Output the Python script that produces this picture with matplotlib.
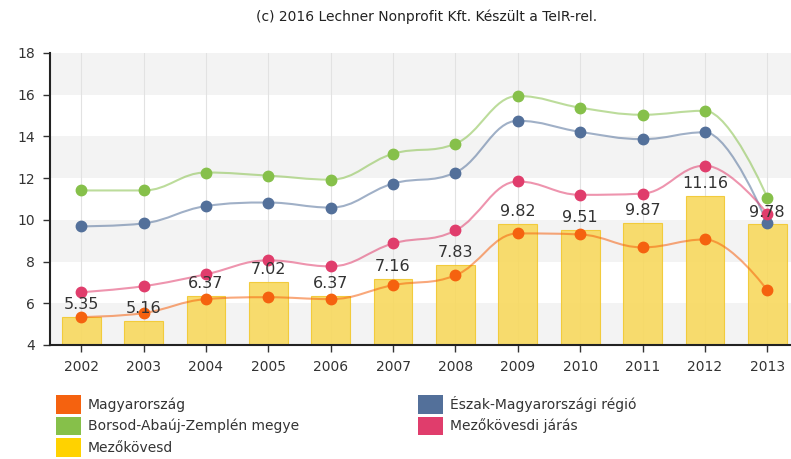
import numpy as np
import matplotlib
matplotlib.use("Agg")
import matplotlib.pyplot as plt
from matplotlib.path import Path
from matplotlib.patches import PathPatch, Patch

# --- adatok ---
evek = ["2002", "2003", "2004", "2005", "2006", "2007",
        "2008", "2009", "2010", "2011", "2012", "2013"]

mezokovesd = [5.35, 5.16, 6.37, 7.02, 6.37, 7.16, 7.83, 9.82, 9.51, 9.87, 11.16, 9.78]
magyarorszag = [5.34, 5.53, 6.20, 6.29, 6.20, 6.87, 7.34, 9.35, 9.30, 8.68, 9.06, 6.63]
eszak_mo = [9.69, 9.83, 10.66, 10.83, 10.59, 11.74, 12.27, 14.75, 14.22, 13.87, 14.20, 9.83]
baz_megye = [11.41, 11.41, 12.27, 12.12, 11.93, 13.17, 13.65, 15.94, 15.38, 15.04, 15.23, 11.07]
mezokovesdi_jaras = [6.53, 6.82, 7.39, 8.06, 7.77, 8.87, 9.49, 11.84, 11.20, 11.26, 12.60, 10.30]

y_ticks = [4, 6, 8, 10, 12, 14, 16, 18]

SZINEK = {
    "Magyarország": "#f5620f",
    "Észak-Magyarországi régió": "#53709a",
    "Borsod-Abaúj-Zemplén megye": "#86c04a",
    "Mezőkövesdi járás": "#e03d6c",
    "Mezőkövesd": "#ffd200",
}


def spline_path(xs, ys, smoothing=1.5):
    """Highcharts-szerű spline: Bezier kontrollpontok a szomszédokból."""
    n = len(xs)
    left, right = [], []
    for i in range(n):
        x, y = xs[i], ys[i]
        if i == 0 or i == n - 1:
            left.append((x, y))
            right.append((x, y))
            continue
        px, py = xs[i - 1], ys[i - 1]
        nx, ny = xs[i + 1], ys[i + 1]
        d = smoothing + 1
        lx, ly = (smoothing * x + px) / d, (smoothing * y + py) / d
        rx, ry = (smoothing * x + nx) / d, (smoothing * y + ny) / d
        corr = ((ry - ly) * (rx - x)) / (rx - lx) + y - ry
        ly += corr
        ry += corr
        if ly > max(py, y):
            ly = max(py, y)
            ry = 2 * y - ly
        elif ly < min(py, y):
            ly = min(py, y)
            ry = 2 * y - ly
        if ry > max(ny, y):
            ry = max(ny, y)
            ly = 2 * y - ry
        elif ry < min(ny, y):
            ry = min(ny, y)
            ly = 2 * y - ry
        left.append((lx, ly))
        right.append((rx, ry))
    verts = [(xs[0], ys[0])]
    codes = [Path.MOVETO]
    for i in range(1, n):
        verts += [right[i - 1], left[i], (xs[i], ys[i])]
        codes += [Path.CURVE4] * 3
    return Path(verts, codes)


fig = plt.figure(figsize=(7.91, 4.59), dpi=100)
ax = fig.add_axes([50 / 791, 1 - 345 / 459, 741 / 791, 292 / 459])

x = np.arange(len(evek))

# sávos háttér
for i in range(0, len(y_ticks) - 1, 2):
    ax.axhspan(y_ticks[i], y_ticks[i + 1], color="#f3f3f3", lw=0, zorder=0)
for xi in x:
    ax.axvline(xi, color="#e2e2e2", lw=0.8, zorder=0.5)

# oszlopok
ax.bar(x, mezokovesd, width=0.62, color="#f8d95e", alpha=0.9,
       edgecolor="#f2c830", lw=0.8, zorder=1)
for xi, v in zip(x, mezokovesd):
    ax.annotate(f"{v:.2f}", (xi, v), xytext=(0, 3.5), textcoords="offset points",
                ha="center", va="bottom", fontsize=11.5, color="#333333", zorder=5)

vonalak = [
    ("Borsod-Abaúj-Zemplén megye", baz_megye),
    ("Észak-Magyarországi régió", eszak_mo),
    ("Mezőkövesdi járás", mezokovesdi_jaras),
    ("Magyarország", magyarorszag),
]
for nev, ertekek in vonalak:
    szin = SZINEK[nev]
    p = spline_path(list(x), ertekek)
    ax.add_patch(PathPatch(p, fill=False, edgecolor=szin, lw=1.5, alpha=0.55, zorder=3))
    ax.plot(x, ertekek, "o", ms=7.5, color=szin, mec=szin, zorder=4)

ax.set_ylim(4, 18)
ax.set_xlim(-0.5, 11.38)
ax.set_yticks(y_ticks)
ax.set_xticks(x)
ax.set_xticklabels(evek)
ax.tick_params(axis="both", colors="#333333", labelsize=10, length=5, width=1)
ax.tick_params(axis="x", pad=6)
ax.tick_params(axis="y", pad=6)
for s in ["top", "right"]:
    ax.spines[s].set_visible(False)
for s in ["left", "bottom"]:
    ax.spines[s].set_color("#222222")
    ax.spines[s].set_linewidth(1.5)

fig.text(427 / 791, 1 - 17 / 459, "(c) 2016 Lechner Nonprofit Kft. Készült a TeIR-rel.",
         ha="center", va="center", fontsize=10, color="#222222")

# jelmagyarázat két oszlopban
def jelmagyarazat(nevek, x0):
    kezek = [Patch(facecolor=SZINEK[n], edgecolor="none") for n in nevek]
    fig.legend(kezek, nevek, loc="upper left", bbox_to_anchor=(x0, 1 - 395 / 459),
               frameon=False, fontsize=10, handlelength=1.8, handleheight=1.7,
               handletextpad=0.5, labelspacing=0.2, borderpad=0, borderaxespad=0,
               labelcolor="#333333")

jelmagyarazat(["Magyarország", "Borsod-Abaúj-Zemplén megye", "Mezőkövesd"], 56 / 791)
jelmagyarazat(["Észak-Magyarországi régió", "Mezőkövesdi járás"], 418 / 791)

fig.savefig("out.png", dpi=100)
